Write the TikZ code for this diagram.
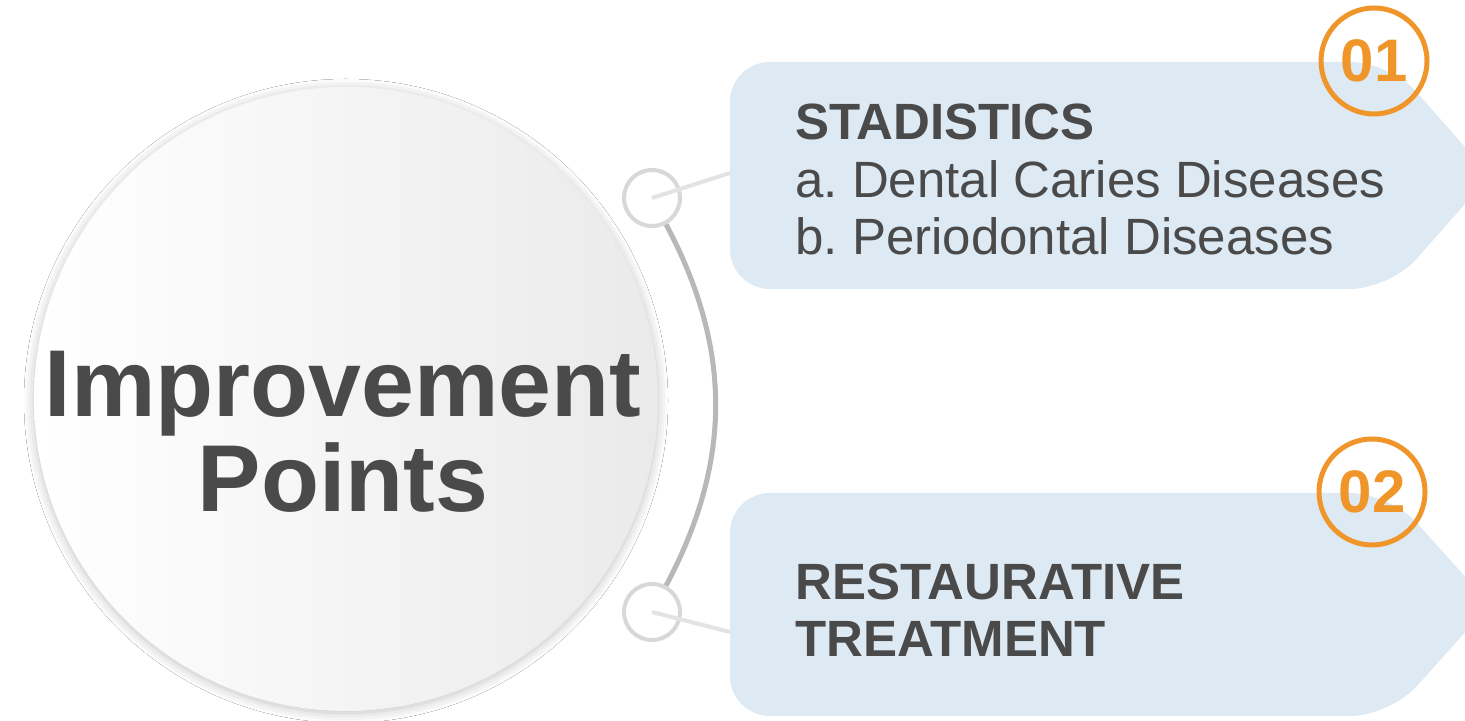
\documentclass[tikz,border=0pt]{standalone}
\usepackage{fontspec}
\setmainfont{Liberation Sans}
\usetikzlibrary{shadows.blur}
\definecolor{txtgray}{HTML}{4A4A4A}
\definecolor{boxblue}{HTML}{DDE9F3}
\definecolor{badgeorange}{HTML}{F0952A}
\definecolor{ringgray}{HTML}{D8D8D8}
\definecolor{arcgray}{HTML}{B8B8B8}
\definecolor{linkgray}{HTML}{E3E3E3}
\definecolor{hubgray}{HTML}{EAEAEA}
\frenchspacing
\begin{document}
\begin{tikzpicture}[x=0.5pt,y=0.5pt,
	hub/.style={circle,minimum size=312pt,inner sep=0pt,left color=white,right color=hubgray,
		blur shadow={shadow xshift=0pt,shadow yshift=-1pt,shadow blur radius=5pt,shadow opacity=25}},
	dot/.style={circle,draw=ringgray,line width=2pt,fill=white,minimum size=28pt,inner sep=0pt},
	badge/.style={circle,draw=badgeorange,line width=2.5pt,minimum size=53pt,inner sep=0pt,
		text=badgeorange,font=\fontsize{30}{30}\selectfont\bfseries},
	panel/.style={fill=boxblue,rounded corners=20pt},
	link/.style={linkgray,line width=2pt},
	boxtext/.style={anchor=north west,align=left,inner sep=0pt,text=txtgray,
		font=\fontsize{25.5}{28.5}\selectfont}]
	\useasboundingbox (0,0) rectangle (1465,721);
	\fill[white] (0,0) rectangle (1465,721);

	\fill[panel] (730,659) -- (1390,659) -- (1490,545.5) -- (1390,432) -- (730,432) -- cycle;
	\fill[panel] (730,228) -- (1390,228) -- (1490,116.5) -- (1390,5) -- (730,5) -- cycle;
	\coordinate (in1) at (730,548);
	\coordinate (in2) at (730,89);

	\node[hub] (hub) at (346,322) {};
	\node[anchor=north,align=center,inner sep=0pt,text=txtgray,
		font=\fontsize{47.5}{47.5}\selectfont\bfseries] (hubtext) at (343,370) {Improvement\\Points};

	\node[dot] (dot1) at (652,523) {};
	\node[dot] (dot2) at (652,109) {};
	\draw[arcgray,line width=2.5pt] (dot1) to[bend left=28] (dot2);
	\draw[link] (dot1.center) -- (in1);
	\draw[link] (dot2.center) -- (in2);

	\node[boxtext] (text1) at (795,617) {\textbf{STADISTICS}\\a. Dental Caries Diseases\\b. Periodontal Diseases};
	\node[boxtext] (text2) at (795,158) {\textbf{RESTAURATIVE}\\\textbf{TREATMENT}};

	\node[badge] (badge1) at (1374,660) {01};
	\node[badge] (badge2) at (1372,229) {02};
\end{tikzpicture}
\end{document}
